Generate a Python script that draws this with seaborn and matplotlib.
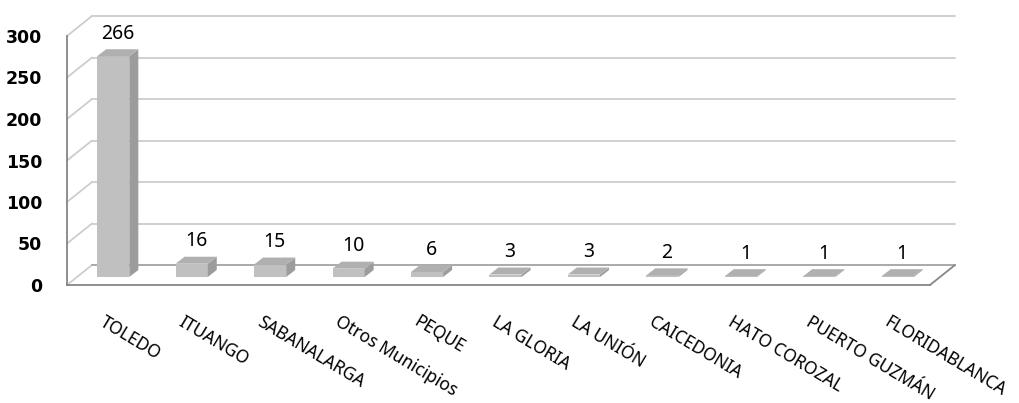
import matplotlib
matplotlib.use("Agg")
import matplotlib.pyplot as plt
from matplotlib.patches import Polygon
import seaborn as sns

municipios = ["TOLEDO", "ITUANGO", "SABANALARGA", "Otros Municipios", "PEQUE",
              "LA GLORIA", "LA UNIÓN", "CAICEDONIA", "HATO COROZAL",
              "PUERTO GUZMÁN", "FLORIDABLANCA"]
casos = [266, 16, 15, 10, 6, 3, 3, 2, 1, 1, 1]
y_ticks = [0, 50, 100, 150, 200, 250, 300]

sns.set_style("white")
plt.rcParams["font.family"] = ["Noto Sans", "DejaVu Sans"]

W, H = 1019, 403
fig = plt.figure(figsize=(W / 100, H / 100), dpi=100)
# eje frontal: x 67..930 px, y 285..36 px
ax = fig.add_axes([67 / W, (H - 285) / H, 863 / W, 249 / H])

n = len(municipios)
px_x = 863 / n          # px por categoria
px_y = 249 / 300        # px por unidad

# profundidad de la pared (px -> datos)
wdx, wdy = 25 / px_x, 20 / px_y
# cara frontal de la barra y profundidad de la barra
fdx, fdy = 7 / px_x, 8 / px_y
bdx, bdy = 9 / px_x, 7 / px_y

c_front, c_side, c_top = "#c0c0c0", "#9c9c9c", "#b0b0b0"
c_grid, c_axis = "#cdcdcd", "#868686"

# pared posterior y pared izquierda
for v in y_ticks:
    ax.plot([-0.5 + wdx, n - 0.5 + wdx], [v + wdy, v + wdy], color=c_grid,
            lw=1.3, clip_on=False, zorder=0)
    ax.plot([-0.5, -0.5 + wdx], [v, v + wdy], color=c_grid, lw=1.3,
            clip_on=False, zorder=0)
# piso
ax.plot([-0.5 + wdx, n - 0.5 + wdx], [wdy, wdy], color="#a8a8a8", lw=1.3,
        clip_on=False, zorder=0.5)
ax.plot([n - 0.5, n - 0.5 + wdx], [0, wdy], color=c_axis, lw=1.3,
        clip_on=False, zorder=0.5)

sns.barplot(x=municipios, y=casos, color=c_front, saturation=1, width=0.41,
            ax=ax, zorder=2)

for p, v in zip(ax.patches, casos):
    p.set_x(p.get_x() + fdx)
    p.set_y(fdy)
    p.set_edgecolor("none")
    x0 = p.get_x()
    x1 = x0 + p.get_width()
    top = fdy + v
    side = Polygon([(x1, fdy), (x1 + bdx, fdy + bdy), (x1 + bdx, top + bdy), (x1, top)],
                   closed=True, facecolor=c_side, edgecolor="none", zorder=2,
                   clip_on=False)
    cap = Polygon([(x0, top), (x1, top), (x1 + bdx, top + bdy), (x0 + bdx, top + bdy)],
                  closed=True, facecolor=c_top, edgecolor="none", zorder=2,
                  clip_on=False)
    ax.add_patch(side)
    ax.add_patch(cap)
    ax.annotate(str(v), ((x0 + x1) / 2 + bdx / 2, top + bdy), xytext=(0, 11),
                textcoords="offset points", ha="center", va="center",
                fontsize=14, color="black", annotation_clip=False)

ax.set_xlim(-0.5, n - 0.5)
ax.set_ylim(0, 300)

sns.despine(ax=ax, top=True, right=True)
for s in ["left", "bottom"]:
    ax.spines[s].set_color(c_axis)
    ax.spines[s].set_linewidth(1.3)
    ax.spines[s].set_zorder(3)

ax.set_yticks(y_ticks)
ax.set_yticklabels([str(t) for t in y_ticks], fontsize=12.5, fontweight="bold",
                   family=["DejaVu Sans"])
ax.tick_params(axis="y", direction="out", length=5, width=1.3, color=c_axis,
               pad=13, labelcolor="black")

ax.set_xticks([i - 0.5 for i in range(n + 1)])
ax.set_xticklabels([])
ax.tick_params(axis="x", which="major", direction="out", length=7, width=1.3,
               color=c_axis)
ax.set_xticks(range(n), minor=True)
ax.set_xticklabels(municipios, minor=True, rotation=-31, ha="left", va="top",
                   rotation_mode="anchor", fontsize=12.5)
ax.tick_params(axis="x", which="minor", length=0, pad=20, labelcolor="black")
ax.set_xlabel("")
ax.set_ylabel("")

fig.savefig("out.png", dpi=100)
